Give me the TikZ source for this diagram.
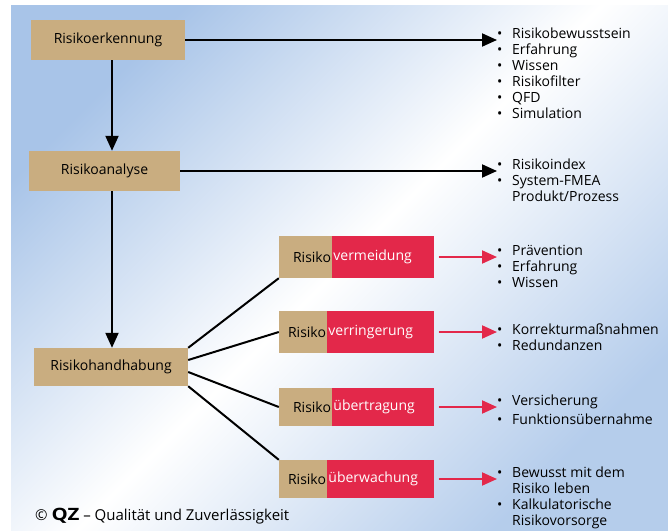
\documentclass[tikz,border=0pt]{standalone}
\usepackage{fontspec}
\setmainfont{Open Sans}
\usetikzlibrary{positioning,arrows.meta}

\definecolor{qzbeige}{RGB}{201,173,128}
\definecolor{qzrot}{RGB}{227,40,74}
\definecolor{qzblau}{RGB}{168,196,232}

\newcommand\pkt{\makebox[15pt][l]{\textbullet}}
\newcommand\weiter{\hspace*{15pt}}
\def\schrift{\fontsize{14}{16}\selectfont}

\begin{document}
\begin{tikzpicture}[x=1pt,y=-1pt,
  box/.style={fill=qzbeige, minimum width=#1, minimum height=40pt, inner sep=0pt, font=\schrift},
  risL/.style={fill=qzbeige, text width=#1, align=right, inner xsep=1pt, inner ysep=0pt, font=\schrift},
  risR/.style={fill=qzrot, text=white, text width=#1, align=left, inner xsep=1pt, inner ysep=0pt, font=\schrift},
  liste/.style={anchor=north west, inner sep=0pt, align=left, font=\schrift},
  pfeil/.style={line width=2pt, -{Triangle[length=15pt,width=13pt]}},
  rotpfeil/.style={pfeil, draw=qzrot, fill=qzrot},
  linie/.style={line width=2pt}]

 \useasboundingbox (0,0) rectangle (668,530);
 \shade[top color=qzblau, bottom color=qzblau!85, middle color=white, shading angle=45] (11,5) rectangle (668,530);

 % Hauptkette
 \node[box=154pt] (erk) at (108,40) {Risikoerkennung};
 \node[box=151pt] (ana) at (104.5,171) {Risikoanalyse};
 \node[box=154pt, minimum height=38pt] (hand) at (111,367) {Risikohandhabung};
 \coordinate (achse) at (112,0);

 \draw[pfeil] (erk.south -| achse) -- (ana.north -| achse);
 \draw[pfeil] (ana.south -| achse) -- (hand.north -| achse);

 % Massnahmen
 \node[risL=51pt, minimum height=42pt] (vermL) at (305.5,257) {Risiko};
 \node[risR=100pt, minimum height=42pt, right=0pt of vermL] (verm) {vermeidung};

 \node[risL=46pt, minimum height=42pt] (verrL) at (303,332) {Risiko};
 \node[risR=105pt, minimum height=42pt, right=0pt of verrL] (verr) {verringerung};

 \node[risL=51pt, minimum height=38pt] (uebtL) at (305.5,407) {Risiko};
 \node[risR=100pt, minimum height=38pt, right=0pt of uebtL] (uebt) {übertragung};

 \node[risL=46pt, minimum height=38pt] (uewL) at (303,479) {Risiko};
 \node[risR=105pt, minimum height=38pt, right=0pt of uewL] (uew) {überwachung};

 \draw[linie] (hand.north east) -- (vermL.south west);
 \draw[linie] ([yshift=7pt]hand.east) -- (verrL.west);
 \draw[linie] ([yshift=-5pt]hand.east) -- (uebtL.west);
 \draw[linie] (hand.south east) -- (uewL.north west);

 % Listen
 \node[liste] (l1) at (497,28) {\pkt Risikobewusstsein\\ \pkt Erfahrung\\ \pkt Wissen\\
   \pkt Risikofilter\\ \pkt QFD\\ \pkt Simulation};
 \node[liste] (l2) at (497,159) {\pkt Risikoindex\\ \pkt System-FMEA\\ \weiter Produkt/Prozess};
 \node[liste] (l3) at (497,245) {\pkt Prävention\\ \pkt Erfahrung\\ \pkt Wissen};
 \node[liste] (l4) at (497,324) {\pkt Korrekturmaßnahmen\\ \pkt Redundanzen};
 \node[liste] (l5) at (497,395) {\pkt Versicherung\\[3pt] \pkt Funktionsübernahme};
 \node[liste] (l6) at (497,467) {\pkt Bewusst mit dem\\ \weiter Risiko leben\\
   \pkt Kalkulatorische\\ \weiter Risikovorsorge};

 \draw[pfeil] (erk.east) -- (erk.east -| l1.west);
 \draw[pfeil] (ana.east) -- (ana.east -| l2.west);
 \draw[rotpfeil] ([xshift=4pt]verm.east) -- (verm.east -| l3.west);
 \draw[rotpfeil] ([xshift=4pt]verr.east) -- (verr.east -| l4.west);
 \draw[rotpfeil] ([xshift=4pt]uebt.east) -- (uebt.east -| l5.west);
 \draw[rotpfeil] ([xshift=4pt]uew.east) -- (uew.east -| l6.west);

 \node[anchor=west, inner sep=0pt, font=\fontsize{15}{15}\selectfont] (quelle) at (35,516)
   {© {\fontsize{17}{17}\selectfont\bfseries\scalebox{1.2}[1]{QZ}} – Qualität und Zuverlässigkeit};
\end{tikzpicture}
\end{document}
